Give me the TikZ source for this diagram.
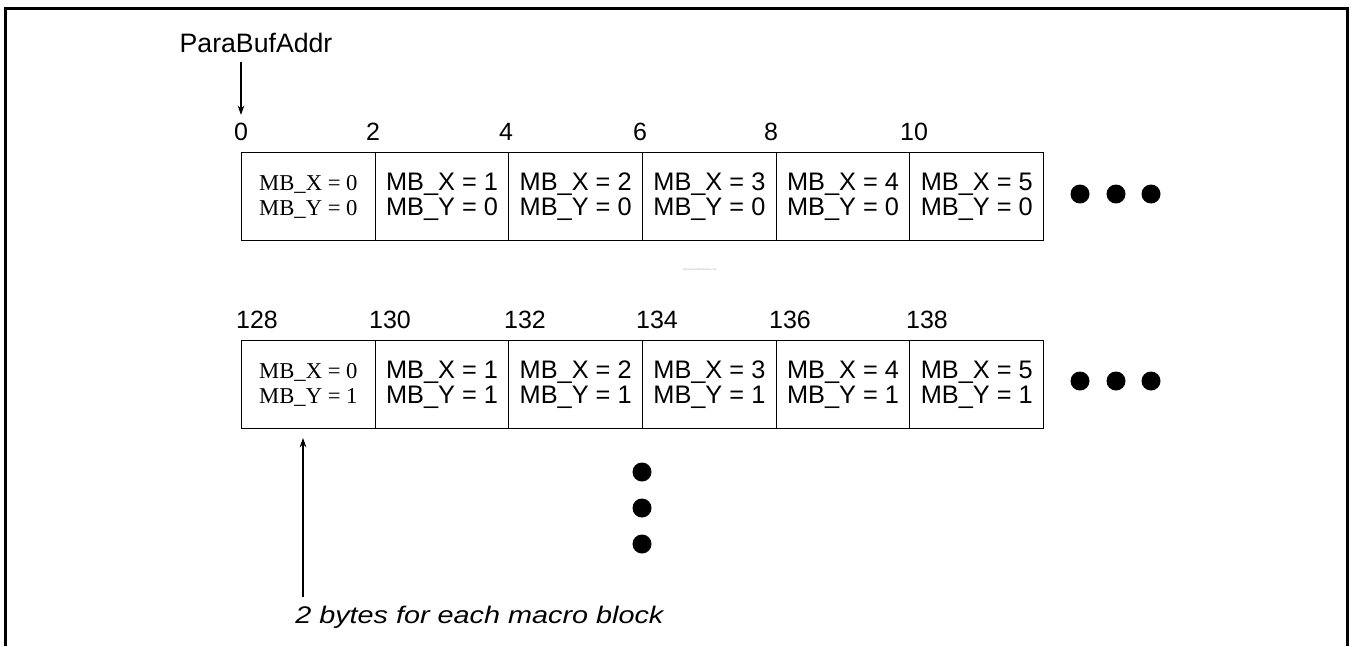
\documentclass[tikz,border=0pt]{standalone}
\usepackage{fontspec}
\usepackage{graphicx}
\setmainfont{Liberation Sans}
\newfontfamily\cellserif{Liberation Serif}
\usetikzlibrary{arrows.meta}
\begin{document}
\begin{tikzpicture}[x=0.75pt,y=-0.75pt,
  lbl/.style={font=\fontsize{18.75}{20}\selectfont, inner sep=0pt},
  cellbox/.style={draw, line width=0.8pt, anchor=north west, inner sep=0pt,
    minimum width=100.25pt, minimum height=66pt, align=center,
    font=\fontsize{19}{18.75}\selectfont},
  firstcell/.style={cellbox, font=\cellserif\fontsize{17}{18.75}\selectfont},
  dotnode/.style={circle, fill=black, inner sep=0pt, minimum size=14.25pt},
  arr/.style={line width=0.8pt, -{Stealth[length=7pt,width=5pt]}}]
\useasboundingbox (0,0) rectangle (1355,646);
% outer frame
\draw[line width=2.25pt] (5,646) -- (5,8) -- (1347,8) -- (1347,646);
% top title and arrow
\node[font=\fontsize{20}{24}\selectfont, inner sep=0pt] (pba) at (256,43) {ParaBufAddr};
% top address labels
\node[lbl] (a0) at (241,132) {0};
\node[lbl] (a1) at (373,132) {2};
\node[lbl] (a2) at (506,132) {4};
\node[lbl] (a3) at (640,132) {6};
\node[lbl] (a4) at (771,132) {8};
\node[lbl] (a5) at (914,132) {10};
\draw[arr, shorten <=7pt] (pba.south -| a0) -- ([yshift=6pt]a0.north);
% top row cells
\node[firstcell] (t0) at (241,152) {MB\_X = 0\\MB\_Y = 0};
\foreach \i in {1,...,5}{
  \node[cellbox] (t\i) at ({241+\i*133.67},152) {MB\_X = \i\\MB\_Y = 0};
}
\node[dotnode] (td1) at (1080,194) {};
\node[dotnode] (td2) at (1116,194) {};
\node[dotnode] (td3) at (1151,194) {};
% watermark
\node[font=\fontsize{2}{3}\selectfont, text=black!35, inner sep=0pt] (wm) at (700,270) {http://www.datasheet4u.com};
% lower address labels
\node[lbl] (b0l) at (257,320) {128};
\node[lbl] (b1l) at (390,320) {130};
\node[lbl] (b2l) at (525,320) {132};
\node[lbl] (b3l) at (657,320) {134};
\node[lbl] (b4l) at (790,320) {136};
\node[lbl] (b5l) at (927,320) {138};
% lower row cells
\node[firstcell] (b0) at (241,340) {MB\_X = 0\\MB\_Y = 1};
\foreach \i in {1,...,5}{
  \node[cellbox] (b\i) at ({241+\i*133.67},340) {MB\_X = \i\\MB\_Y = 1};
}
\node[dotnode] (bd1) at (1080,381) {};
\node[dotnode] (bd2) at (1116,381) {};
\node[dotnode] (bd3) at (1151,381) {};
% vertical dots
\node[dotnode] (vd1) at (642,472) {};
\node[dotnode] (vd2) at (642,508) {};
\node[dotnode] (vd3) at (642,544) {};
% note and arrow
\node[anchor=base west, inner sep=0pt, font=\fontsize{18}{20}\selectfont] (note) at (295,623) {\scalebox{1.2}[1]{\itshape 2 bytes for each macro block}};
\coordinate (ua) at (303,438);
\draw[arr, shorten <=6pt] (note.north -| ua) -- (ua);
\end{tikzpicture}
\end{document}
